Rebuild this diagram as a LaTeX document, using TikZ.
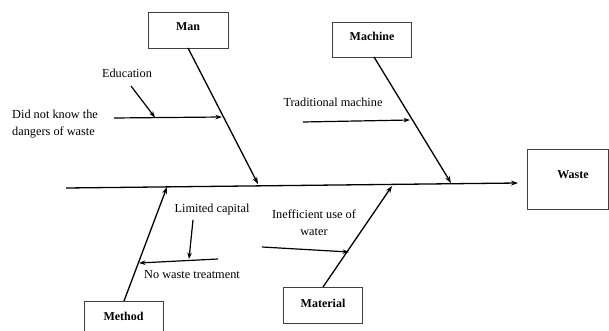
\documentclass[tikz,border=0pt]{standalone}
\usepackage{fontspec}
\setmainfont{Liberation Serif}
\usetikzlibrary{arrows.meta}
\begin{document}
\begin{tikzpicture}[x=1pt,y=-1pt,
  catbox/.style={draw=black!75,line width=0.9pt,fill=white,inner sep=0pt},
  cattxt/.style={inner sep=0pt,font=\fontsize{12}{14}\selectfont\bfseries},
  lbl/.style={inner sep=0pt,font=\fontsize{12.3}{17}\selectfont},
  bone/.style={line width=1.3pt,-{Stealth[length=7pt,width=5pt]}},
  sub/.style={line width=1.2pt,-{Stealth[length=6.5pt,width=4.5pt]}}]
\clip (0,0) rectangle (609,331);
\fill[white] (0,0) rectangle (609,331);
% category boxes
\node[catbox,minimum width=80pt,minimum height=36pt] (man) at (188,30) {};
\node[cattxt] (mant) at (188,27) {Man};
\node[catbox,minimum width=79pt,minimum height=35pt] (machine) at (371.5,39.5) {};
\node[cattxt] (machinet) at (372,36.5) {Machine};
\node[catbox,minimum width=81pt,minimum height=60pt] (waste) at (567.5,179) {};
\node[cattxt] (wastet) at (573,175) {Waste};
\node[catbox,minimum width=79pt,minimum height=40pt] (method) at (123.5,321) {};
\node[cattxt] (methodt) at (123.5,316) {Method};
\node[catbox,minimum width=79pt,minimum height=36pt] (material) at (322.5,305) {};
\node[cattxt] (materialt) at (323,303) {Material};
% spine
\coordinate (spL) at (66,188);
\coordinate (spR) at (518,183);
\draw[bone] (spL) -- (spR);
% main bones
\coordinate (manE) at (258,184);
\coordinate (machE) at (451,183);
\coordinate (methE) at (167,187);
\coordinate (matE) at (392,186);
\coordinate (manS) at (188,48);
\coordinate (machS) at (374,57);
\coordinate (methS) at (124,301);
\coordinate (matS) at (323,287);
\draw[bone] (manS) -- (manE);
\draw[bone] (machS) -- (machE);
\draw[bone] (methS) -- (methE);
\draw[bone] (matS) -- (matE);
% labels
\node[lbl,anchor=base] (edu) at (127,78) {Education};
\node[lbl,anchor=base west,align=left] (dnk) at (12,135.5) {Did not know the\\dangers of waste};
\node[lbl,anchor=base] (trad) at (333,107) {Traditional machine};
\node[lbl,anchor=base] (limcap) at (212,212) {Limited capital};
\node[lbl,anchor=base] (nowaste) at (192,278) {No waste treatment};
\node[lbl,anchor=base,align=center] (ineff) at (314,235) {Inefficient use of\\water};
% sub-causes
\coordinate (dnkS) at (114,118);
\coordinate (dnkE) at (222,117);
\coordinate (eduS) at (131,86);
\coordinate (eduE) at (155,117.5);
\coordinate (tradS) at (303,122);
\coordinate (tradE) at (410,120);
\coordinate (lcS) at (193,220);
\coordinate (lcE) at (189,259);
\coordinate (nwS) at (218,259);
\coordinate (nwE) at (139,263);
\coordinate (ieS) at (262,247);
\coordinate (ieE) at (349,252);
\draw[sub] (dnkS) -- (dnkE);
\draw[sub] (eduS) -- (eduE);
\draw[sub] (tradS) -- (tradE);
\draw[sub] (lcS) -- (lcE);
\draw[sub] (nwS) -- (nwE);
\draw[sub] (ieS) -- (ieE);
\end{tikzpicture}
\end{document}
